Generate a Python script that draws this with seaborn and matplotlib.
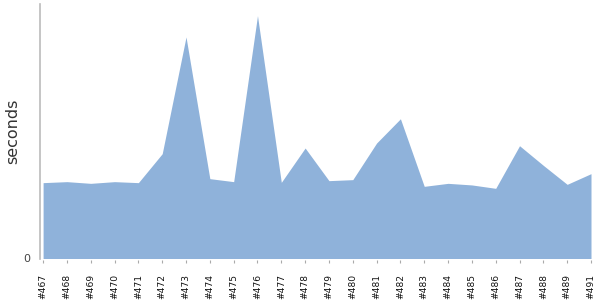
import matplotlib
matplotlib.use("Agg")
import matplotlib.pyplot as plt
import seaborn as sns
import pandas as pd
import numpy as np

builds = ["#467", "#468", "#469", "#470", "#471", "#472", "#473", "#474", "#475",
          "#476", "#477", "#478", "#479", "#480", "#481", "#482", "#483", "#484",
          "#485", "#486", "#487", "#488", "#489", "#491"]
seconds = [76.0, 77.0, 75.3, 77.0, 76.0, 105.0, 222.0, 80.0, 77.0,
           243.3, 76.3, 110.7, 78.0, 79.0, 115.7, 140.0, 72.3, 75.3,
           73.7, 70.3, 113.0, 93.3, 74.3, 85.0]
y_max = 255.0

sns.set_theme(style="white")
plt.rcParams['font.family'] = ['DejaVu Sans']

df = pd.DataFrame({"build": builds, "seconds": seconds})
df["pos"] = np.arange(len(builds))

fig = plt.figure(figsize=(6, 3), dpi=100)
ax = fig.add_axes([40 / 600, 41.5 / 300, 551 / 600, 254.5 / 300])

fill_color = "#8fb2da"
sns.lineplot(data=df, x="pos", y="seconds", ax=ax, color=fill_color, linewidth=0)
ax.fill_between(df["pos"], 0, df["seconds"], color=fill_color, linewidth=0)

ax.set_xlim(-0.13, len(builds) - 1)
ax.set_ylim(0, y_max)

ax.set_xticks(df["pos"])
ax.set_xticklabels(builds)
ax.set_yticks([0])
ax.set_yticklabels(["0"])

ax.set_xlabel("")
ax.set_ylabel("seconds", fontsize=11.5, color="#333333")
ax.yaxis.set_label_coords(-0.036, 0.5)

for s in ["top", "right"]:
    ax.spines[s].set_visible(False)
ax.spines["bottom"].set_visible(False)
ax.spines["bottom"].set_position(("outward", 1))
ax.spines["left"].set_color("#bbbbbb")
ax.spines["left"].set_linewidth(1.2)

ax.tick_params(axis="x", bottom=True, length=2.4, width=0.8, color="#aaaaaa",
               pad=7.5, labelrotation=90, labelsize=6.6, labelcolor="#111111")
ax.tick_params(axis="y", left=False, length=0, pad=7, labelsize=8,
               labelcolor="#444444")
ax.grid(False)

fig.savefig("out.png", dpi=100)
